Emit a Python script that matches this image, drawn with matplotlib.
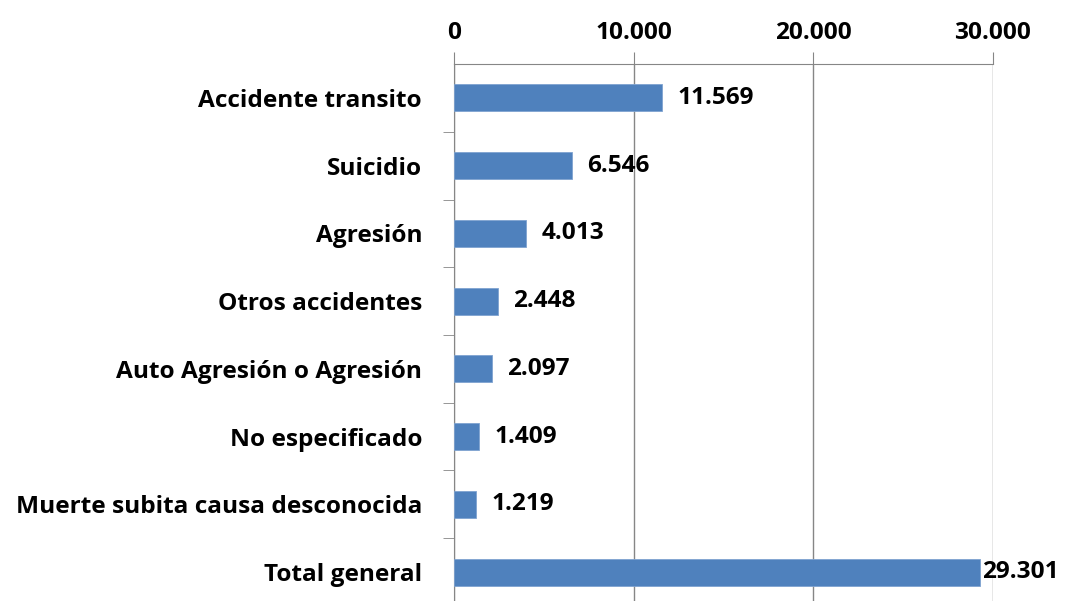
import matplotlib.pyplot as plt
from matplotlib.ticker import FuncFormatter, FixedLocator
import numpy as np

causas = ['Accidente transito', 'Suicidio', 'Agresión', 'Otros accidentes',
          'Auto Agresión o Agresión', 'No especificado',
          'Muerte subita causa desconocida', 'Total general']
valores = [11569, 6546, 4013, 2448, 2097, 1409, 1219, 29301]
xticks = [0, 10000, 20000, 30000]

plt.rcParams['font.family'] = ['Open Sans', 'DejaVu Sans']
plt.rcParams['font.weight'] = 'bold'
fs = 17.6

def miles(v, pos=None):
    return f'{int(v):,}'.replace(',', '.')

fig = plt.figure(figsize=(10.67, 6.01), dpi=100)
ax = fig.add_axes([0.4255, -0.0083, 0.505, 0.9018])

y = np.arange(len(causas))
ax.barh(y, valores, height=0.4, color='#4F81BD', edgecolor='#7FA3D0', linewidth=0.6, zorder=3)
ax.set_ylim(len(causas) - 0.5, -0.5)
ax.set_xlim(0, 30000)

ax.xaxis.tick_top()
ax.set_xticks(xticks)
ax.xaxis.set_major_formatter(FuncFormatter(miles))
ax.tick_params(axis='x', length=9, color='#868686', labelsize=fs, pad=5)
ax.grid(axis='x', color='#868686', linewidth=1, zorder=0)

ax.set_yticks(y)
ax.set_yticklabels(causas, fontsize=fs)
ax.tick_params(axis='y', which='major', length=0, pad=23)
ax.yaxis.set_minor_locator(FixedLocator(np.arange(len(causas) - 1) + 0.5))
ax.tick_params(axis='y', which='minor', length=8, color='#868686')

for s in ['right', 'bottom']:
    ax.spines[s].set_visible(False)
for s in ['left', 'top']:
    ax.spines[s].set_color('#868686')

for i, v in enumerate(valores):
    off = 1 if v > 28000 else 11
    ax.annotate(miles(v), (v, i), xytext=(off, 0), textcoords='offset points',
                va='center', ha='left', fontsize=fs, fontweight='bold',
                annotation_clip=False)

fig.savefig('out.png', dpi=100)
